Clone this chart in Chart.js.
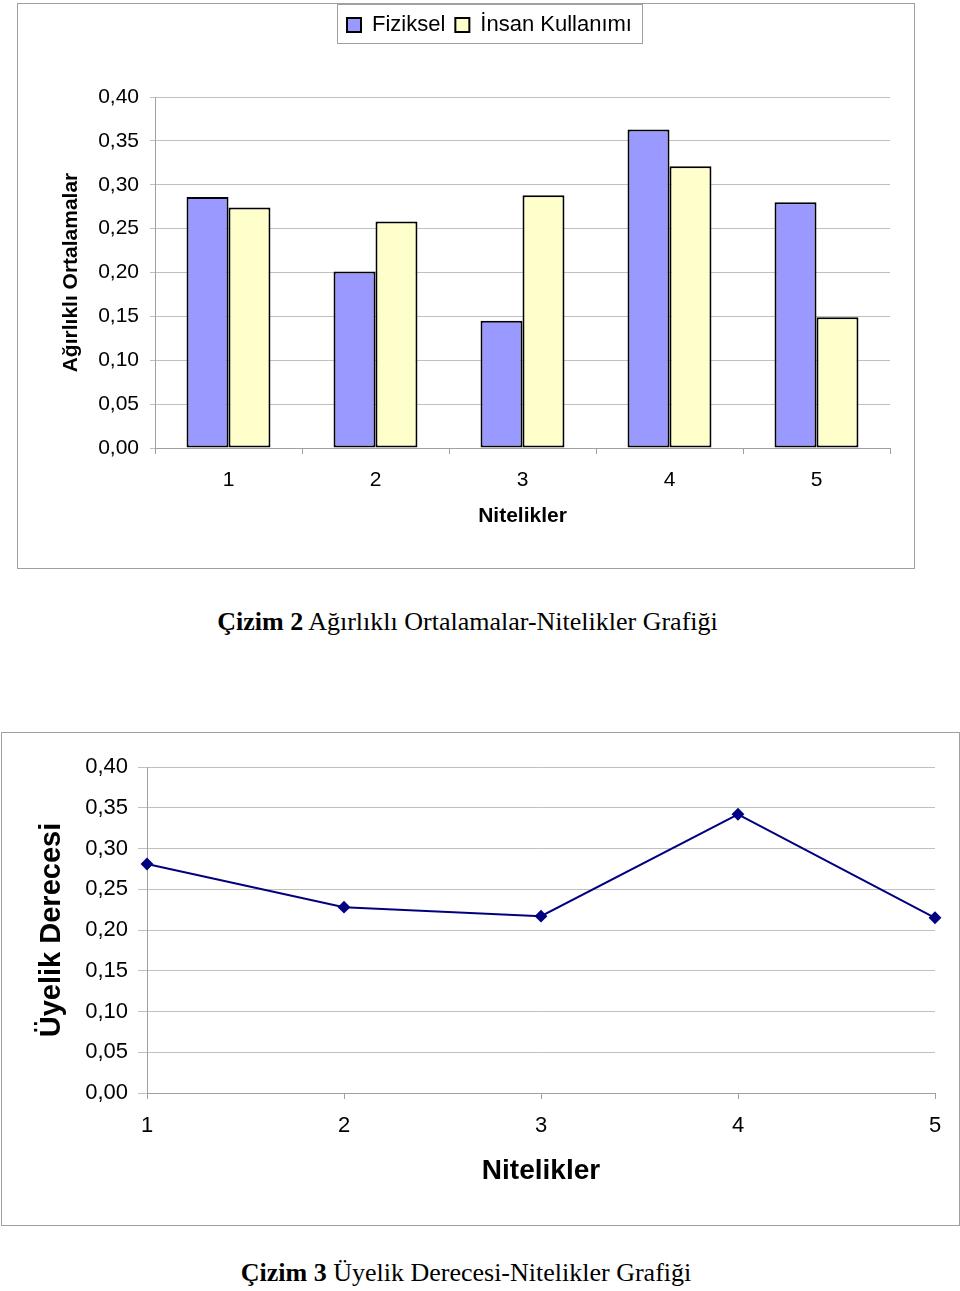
<!DOCTYPE html>
<html>
<head>
<meta charset="utf-8">
<script src="https://cdn.jsdelivr.net/npm/chart.js@4/dist/chart.umd.min.js"></script>
<style>
    body { margin: 0; background: #fff; width: 960px; height: 1291px; position: relative; overflow: hidden; }
    .box { position: absolute; border: 1px solid #a0a0a0; background: #fff; }
    .caption { position: absolute; left: 0; width: 935px; text-align: center; font-family: "Liberation Serif", "Times New Roman", serif; font-size: 26px; color: #000; }
</style>
</head>
<body>
<div class="box" style="left:17px; top:3px; width:896px; height:564px;">
    <canvas id="chart-bar" width="896" height="564" style="display:block"></canvas>
</div>
<div class="caption" style="top:607px;"><b>Çizim 2</b> Ağırlıklı Ortalamalar-Nitelikler Grafiği</div>

<div class="box" style="left:1px; top:732px; width:957px; height:492px;">
    <canvas id="chart-line" width="957" height="492" style="display:block"></canvas>
</div>
<div class="caption" style="top:1258px; width:932px;"><b>Çizim 3</b> Üyelik Derecesi-Nitelikler Grafiği</div>

<script>
// data
const nitelikler = ['1', '2', '3', '4', '5'];
const fiziksel = [0.286, 0.201, 0.145, 0.363, 0.280];
const insanKullanimi = [0.274, 0.258, 0.288, 0.321, 0.149];
const uyelikDerecesi = [0.281, 0.228, 0.217, 0.342, 0.215];
const yTicks = [0, 0.05, 0.10, 0.15, 0.20, 0.25, 0.30, 0.35, 0.40];

const fmt = v => v.toFixed(2).replace('.', ',');
const sans = '"Liberation Sans", Arial, sans-serif';

window.addEventListener('load', onLoad);

function onLoad() {
    // box around the legend
    const legendBox = {
        id: 'legendBox',
        afterDraw(chart) {
            const lg = chart.legend;
            if (!lg || !lg.legendHitBoxes.length) return;
            const hb = lg.legendHitBoxes;
            const x0 = hb[0].left - 10;
            const last = hb[hb.length - 1];
            const x1 = last.left + last.width + 10;
            const c = chart.ctx;
            c.save();
            c.strokeStyle = '#a0a0a0';
            c.lineWidth = 1;
            c.strokeRect(Math.round(x0) + 0.5, 0.5, Math.round(x1 - x0), 39);
            c.restore();
        }
    };

    const ctxBar = document.getElementById('chart-bar').getContext('2d');
    new Chart(ctxBar, {
        type: 'bar',
        data: {
            labels: nitelikler,
            datasets: [{
                label: 'Fiziksel',
                data: fiziksel,
                backgroundColor: '#9999ff',
                borderColor: '#000000',
                borderWidth: 2,
                borderSkipped: false
            }, {
                label: 'İnsan Kullanımı',
                data: insanKullanimi,
                backgroundColor: '#ffffcc',
                borderColor: '#000000',
                borderWidth: 2,
                borderSkipped: false
            }]
        },
        options: {
            responsive: false,
            animation: false,
            layout: { padding: { top: 0, right: 24, bottom: 0, left: 71 } },
            datasets: { bar: { barPercentage: 1, categoryPercentage: 0.571 } },
            plugins: {
                tooltip: { enabled: false },
                legend: {
                    position: 'top',
                    labels: {
                        font: { family: sans, size: 22 },
                        color: '#000',
                        boxWidth: 14,
                        boxHeight: 14,
                        padding: 10
                    }
                },
                // empty spacer between legend and plot
                subtitle: { display: true, text: '', weight: 500, font: { size: 10 }, padding: { top: 39, bottom: 0 } }
            },
            scales: {
                x: {
                    afterFit(s) { s.height = 120; },
                    grid: { offset: true, drawOnChartArea: false, drawTicks: true, tickLength: 6, color: '#a0a0a0' },
                    border: { color: '#a0a0a0' },
                    ticks: { font: { family: sans, size: 21 }, color: '#000', padding: 14 },
                    title: { display: true, text: 'Nitelikler', font: { family: sans, size: 21, weight: 'bold' }, color: '#000', padding: { top: 0, bottom: 39 } }
                },
                y: {
                    min: 0,
                    max: 0.4,
                    afterFit(s) { s.width = 66; },
                    afterBuildTicks(s) { s.ticks = yTicks.map(v => ({ value: v })); },
                    grid: { color: '#c0c0c0', tickLength: 5, lineWidth: 1 },
                    border: { color: '#a0a0a0' },
                    ticks: { font: { family: sans, size: 21 }, color: '#000', padding: 11, callback: v => fmt(v) },
                    title: { display: true, text: 'Ağırlıklı Ortalamalar', font: { family: sans, size: 21, weight: 'bold' }, color: '#000', padding: { top: -30, bottom: 0 } }
                }
            }
        },
        plugins: [legendBox]
    });

    const ctxLine = document.getElementById('chart-line').getContext('2d');
    new Chart(ctxLine, {
        type: 'line',
        data: {
            labels: nitelikler,
            datasets: [{
                label: 'Üyelik Derecesi',
                data: uyelikDerecesi,
                borderColor: '#000080',
                backgroundColor: '#000080',
                borderWidth: 2,
                pointStyle: 'rectRot',
                pointRadius: 5,
                tension: 0,
                fill: false,
                clip: false
            }]
        },
        options: {
            responsive: false,
            animation: false,
            layout: { padding: { top: 34, right: 24, bottom: 0, left: 0 } },
            plugins: { legend: { display: false }, tooltip: { enabled: false } },
            scales: {
                x: {
                    offset: false,
                    afterFit(s) { s.height = 132; },
                    grid: { drawOnChartArea: false, drawTicks: true, tickLength: 6, color: '#a0a0a0' },
                    border: { color: '#a0a0a0' },
                    ticks: { font: { family: sans, size: 22 }, color: '#000', padding: 14 },
                    title: { display: true, text: 'Nitelikler', font: { family: sans, size: 28, weight: 'bold' }, color: '#000', padding: { top: 0, bottom: 37 } }
                },
                y: {
                    min: 0,
                    max: 0.4,
                    afterFit(s) { s.width = 145; },
                    afterBuildTicks(s) { s.ticks = yTicks.map(v => ({ value: v })); },
                    grid: { color: '#c0c0c0', tickLength: 9, lineWidth: 1 },
                    border: { color: '#a0a0a0' },
                    ticks: { font: { family: sans, size: 22 }, color: '#000', padding: 10, callback: v => fmt(v) },
                    title: { display: true, text: 'Üyelik Derecesi', font: { family: sans, size: 29, weight: 'bold' }, color: '#000', padding: { top: 33, bottom: 0 } }
                }
            }
        }
    });
}
</script>
</body>
</html>
